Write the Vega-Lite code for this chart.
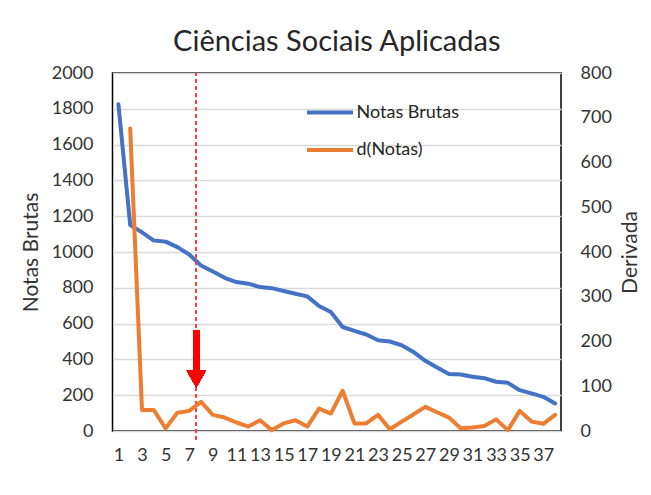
{
  "$schema": "https://vega.github.io/schema/vega-lite/v6.json",
  "autosize": {"type": "none"},
  "padding": {"left": 112.5, "top": 73, "right": 90, "bottom": 64},
  "width": 448.5,
  "height": 358,
  "background": "white",
  "config": {
    "font": "Lato",
    "view": {"stroke": "#000000", "strokeWidth": 1.5},
    "axis": {"labelFont": "Lato", "labelFontSize": 18, "labelColor": "#333333", "titleFont": "Lato", "titleFontSize": 21, "titleFontWeight": "normal", "titleColor": "#333333", "ticks": false, "domain": false, "gridColor": "#d9d9d9", "gridWidth": 1.3, "labelOverlap": false}
  },
  "title": {"text": "Ciências Sociais Aplicadas", "fontSize": 29, "font": "Lato", "fontWeight": "normal", "color": "#262626", "offset": -16, "baseline": "alphabetic"},
  "data": {
    "values": [
      {"x": 1, "notas": 1826, "d": null},
      {"x": 2, "notas": 1150, "d": 676},
      {"x": 3, "notas": 1110, "d": 47},
      {"x": 4, "notas": 1064, "d": 47},
      {"x": 5, "notas": 1058, "d": 6},
      {"x": 6, "notas": 1027, "d": 41},
      {"x": 7, "notas": 986, "d": 45},
      {"x": 8, "notas": 925, "d": 65},
      {"x": 9, "notas": 891, "d": 36},
      {"x": 10, "notas": 856, "d": 30},
      {"x": 11, "notas": 832, "d": 19},
      {"x": 12, "notas": 823, "d": 10},
      {"x": 13, "notas": 804, "d": 24},
      {"x": 14, "notas": 798, "d": 2},
      {"x": 15, "notas": 782, "d": 17},
      {"x": 16, "notas": 767, "d": 24},
      {"x": 17, "notas": 752, "d": 10},
      {"x": 18, "notas": 698, "d": 50},
      {"x": 19, "notas": 665, "d": 39},
      {"x": 20, "notas": 581, "d": 90},
      {"x": 21, "notas": 559, "d": 17},
      {"x": 22, "notas": 539, "d": 17},
      {"x": 23, "notas": 507, "d": 36},
      {"x": 24, "notas": 500, "d": 4},
      {"x": 25, "notas": 479, "d": 21},
      {"x": 26, "notas": 442, "d": 37},
      {"x": 27, "notas": 392, "d": 54},
      {"x": 28, "notas": 355, "d": 42},
      {"x": 29, "notas": 318, "d": 30},
      {"x": 30, "notas": 316, "d": 6},
      {"x": 31, "notas": 303, "d": 8},
      {"x": 32, "notas": 295, "d": 11},
      {"x": 33, "notas": 275, "d": 26},
      {"x": 34, "notas": 269, "d": 2},
      {"x": 35, "notas": 228, "d": 45},
      {"x": 36, "notas": 210, "d": 21},
      {"x": 37, "notas": 191, "d": 16},
      {"x": 38, "notas": 154, "d": 36}
    ]
  },
  "layer": [
    {
      "layer": [
        {
          "mark": {"type": "line", "strokeWidth": 4, "strokeJoin": "round", "strokeCap": "round"},
          "encoding": {
            "x": {"field": "x", "type": "quantitative", "scale": {"domain": [0.5, 38.5], "nice": false, "zero": false}, "axis": {"values": [1,3,5,7,9,11,13,15,17,19,21,23,25,27,29,31,33,35,37], "tickCount": 50, "format": "d", "title": null, "grid": false, "labelPadding": 15, "labelFlush": false, "labelOverlap": false}},
            "y": {"field": "notas", "type": "quantitative", "scale": {"domain": [0, 2000], "nice": false}, "axis": {"title": "Notas Brutas", "values": [0,200,400,600,800,1000,1200,1400,1600,1800,2000], "tickCount": 20, "format": "d", "labelPadding": 19.5, "titlePadding": 10, "grid": true, "labelOverlap": false}},
            "color": {"datum": "Notas Brutas", "type": "nominal", "scale": {"domain": ["Notas Brutas", "d(Notas)"], "range": ["#4472C4", "#ED7D31"]}, "legend": {"orient": "none", "legendX": 206, "legendY": 28, "title": null, "symbolType": "M-2.5,0H2.5", "symbolStrokeWidth": 4, "symbolSize": 339, "labelFontSize": 18, "labelColor": "#262626", "labelFont": "Lato", "labelOffset": 15, "rowPadding": 16.6, "padding": 0}}
          }
        },
        {
          "mark": {"type": "rule", "color": "#ff4040", "opacity": 0.8, "strokeWidth": 1.3, "strokeDash": [4, 3]},
          "encoding": {
            "x": {"datum": 7.6, "type": "quantitative"},
            "y": {"datum": -50, "type": "quantitative"},
            "y2": {"datum": 2000}
          }
        },
        {
          "mark": {"type": "rule", "color": "#ff0000", "strokeWidth": 6, "strokeCap": "butt"},
          "encoding": {
            "x": {"datum": 7.6, "type": "quantitative"},
            "y": {"datum": 563, "type": "quantitative"},
            "y2": {"datum": 318}
          }
        },
        {
          "mark": {"type": "point", "shape": "triangle-down", "filled": true, "color": "#ff0000", "opacity": 1, "size": 361},
          "encoding": {
            "x": {"datum": 7.6, "type": "quantitative"},
            "y": {"datum": 290, "type": "quantitative"}
          }
        }
      ]
    },
    {
      "mark": {"type": "line", "strokeWidth": 4, "strokeJoin": "round", "strokeCap": "round"},
      "encoding": {
        "x": {"field": "x", "type": "quantitative"},
        "y": {"field": "d", "type": "quantitative", "scale": {"domain": [0, 800], "nice": false}, "axis": {"orient": "right", "title": "Derivada", "values": [0,100,200,300,400,500,600,700,800], "tickCount": 20, "format": "d", "labelPadding": 19, "titlePadding": 29, "titleAngle": 270, "grid": false, "labelOverlap": false}},
        "color": {"datum": "d(Notas)", "type": "nominal"}
      }
    }
  ],
  "resolve": {"scale": {"y": "independent"}}
}
